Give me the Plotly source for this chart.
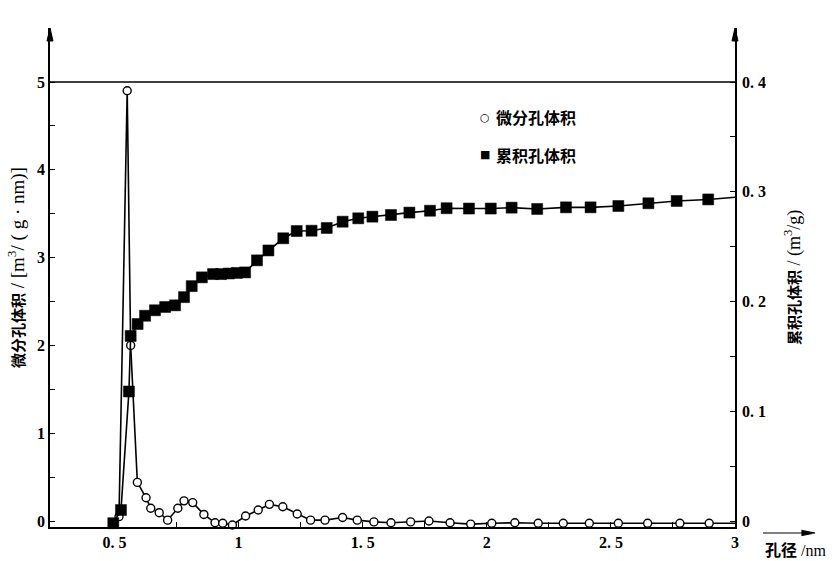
import plotly.graph_objects as go

# ---------------- data ----------------
# differential pore volume (left axis), m3/(g*nm)
diff_x = [0.518, 0.551, 0.565, 0.592, 0.627, 0.646, 0.680, 0.714, 0.755, 0.780,
          0.815, 0.860, 0.905, 0.936, 0.975, 1.028, 1.079, 1.124, 1.178, 1.236,
          1.290, 1.348, 1.419, 1.478, 1.545, 1.614, 1.693, 1.767, 1.852, 1.935,
          2.020, 2.113, 2.207, 2.308, 2.413, 2.530, 2.648, 2.778, 2.896, 3.0]
diff_y = [0.05, 4.90, 2.00, 0.44, 0.265, 0.145, 0.095, 0.01, 0.145, 0.23,
          0.21, 0.075, -0.02, -0.025, -0.045, 0.057, 0.125, 0.19, 0.163, 0.08,
          0.01, 0.01, 0.04, 0.01, -0.01, -0.02, -0.01, 0.0, -0.02, -0.035,
          -0.025, -0.02, -0.025, -0.025, -0.025, -0.025, -0.026, -0.026, -0.026, -0.026]

# cumulative pore volume (right axis), m3/g
cum_x = [0.495, 0.526, 0.558, 0.565, 0.593, 0.623, 0.663, 0.704, 0.744, 0.780,
         0.811, 0.852, 0.897, 0.929, 0.961, 0.993, 1.026, 1.074, 1.120, 1.180,
         1.234, 1.294, 1.355, 1.419, 1.482, 1.539, 1.614, 1.688, 1.771, 1.838,
         1.928, 2.016, 2.100, 2.203, 2.319, 2.418, 2.530, 2.651, 2.765, 2.892, 3.0]
cum_y = [-0.002, 0.010, 0.118, 0.1686, 0.1795, 0.187, 0.192, 0.195, 0.1965, 0.204,
         0.214, 0.222, 0.225, 0.225, 0.2255, 0.226, 0.2265, 0.2375, 0.2465, 0.2576,
         0.2642, 0.2645, 0.267, 0.2727, 0.2758, 0.2773, 0.2788, 0.281, 0.2827, 0.285,
         0.2847, 0.2847, 0.2855, 0.2843, 0.2858, 0.2858, 0.287, 0.2895, 0.2916, 0.293, 0.295]

x_ticks = [0.5, 1, 1.5, 2, 2.5, 3]
x_ticktext = ["0. 5", "1", "1. 5", "2", "2. 5", "3"]
y_ticks = [0, 1, 2, 3, 4, 5]
y2_ticks = [0, 0.1, 0.2, 0.3, 0.4]
y2_ticktext = ["0", "0. 1", "0. 2", "0. 3", "0. 4"]

name_diff = "微分孔体积"
name_cum = "累积孔体积"

# ---------------- figure ----------------
BLACK = "#000000"
NUM_FONT = dict(family="Liberation Serif, DejaVu Serif", size=16, color=BLACK, weight="bold")
CJK_FONT = "Liberation Serif, Noto Sans CJK SC"

diff_sizes = [8] * (len(diff_x) - 1) + [0]
cum_sizes = [11] * (len(cum_x) - 1) + [0]

fig = go.Figure()
fig.add_trace(go.Scatter(
    x=diff_x, y=diff_y, mode="lines+markers", name=name_diff,
    line=dict(color=BLACK, width=1.6),
    marker=dict(symbol="circle", size=diff_sizes, color="white", opacity=1,
                line=dict(color=BLACK, width=1.4)),
    showlegend=False, cliponaxis=False))
fig.add_trace(go.Scatter(
    x=cum_x, y=cum_y, mode="lines+markers", name=name_cum, yaxis="y2",
    line=dict(color=BLACK, width=1.6),
    marker=dict(symbol="square", size=cum_sizes, color=BLACK, opacity=1,
                line=dict(color=BLACK, width=0.5)),
    showlegend=False, cliponaxis=False))

axis_common = dict(showgrid=False, zeroline=False, showline=True, linecolor=BLACK,
                   linewidth=1.5, ticks="inside", ticklen=5, tickwidth=1.2,
                   tickcolor=BLACK, tickfont=NUM_FONT, automargin=False)

fig.update_layout(
    width=840, height=561,
    margin=dict(l=50, r=105, t=28, b=34, autoexpand=False),
    paper_bgcolor="white", plot_bgcolor="white",
    showlegend=False,
    xaxis=dict(range=[0.24, 3.0], tickvals=x_ticks, ticktext=x_ticktext,
               ticklabelstandoff=0,
               minor=dict(tickvals=[0.75, 1.25, 1.75, 2.25, 2.75], ticks="inside",
                          ticklen=5, tickwidth=1.2, tickcolor=BLACK),
               **axis_common),
    yaxis=dict(range=[-0.068, 5.615], tickvals=y_ticks,
               minor=dict(tickvals=[0.5, 1.5, 2.5, 3.5, 4.5], ticks="inside",
                          ticklen=5, tickwidth=1.2, tickcolor=BLACK),
               **axis_common),
    yaxis2=dict(range=[-0.00547, 0.4492], tickvals=y2_ticks, ticktext=y2_ticktext,
                overlaying="y", side="right", ticklabelstandoff=2,
                minor=dict(tickvals=[0.05, 0.15, 0.25, 0.35], ticks="inside",
                           ticklen=5, tickwidth=1.2, tickcolor=BLACK),
                **axis_common),
)

# top frame line at y = 5
fig.add_shape(type="line", xref="paper", yref="y", x0=0, x1=1, y0=5, y1=5,
              line=dict(color=BLACK, width=1.5))

# arrowheads on the two vertical axes
for xa in (0, 1):
    fig.add_shape(type="path", xref="paper", yref="paper",
                  xsizemode="pixel", ysizemode="pixel", xanchor=xa, yanchor=1,
                  path="M-3,-13 L3,-13 L0,0 Z", fillcolor=BLACK,
                  line=dict(color=BLACK, width=1))

# arrow above the x-axis title
fig.add_shape(type="path", xref="paper", yref="paper",
              xsizemode="pixel", ysizemode="pixel", xanchor=1.1168, yanchor=-0.012,
              path="M-52,0 L-10,0 M-13,-2.5 L0,0 L-13,2.5 Z", fillcolor=BLACK,
              line=dict(color=BLACK, width=1.2))

# axis titles
fig.add_annotation(xref="paper", yref="paper", x=-0.0496, y=0.519,
                   text="<b><span style='font-size:15px'>微分孔体积</span></b> / [m<sup>3</sup>/ ( g · nm)]",
                   textangle=-90,
                   showarrow=False, xanchor="center", yanchor="middle",
                   font=dict(family=CJK_FONT, size=19, color=BLACK))
fig.add_annotation(xref="paper", yref="paper", x=1.0847, y=0.499,
                   text="<b><span style='font-size:15px'>累积孔体积</span></b> / (m<sup>3</sup>/g)",
                   textangle=-90,
                   showarrow=False, xanchor="center", yanchor="middle",
                   font=dict(family=CJK_FONT, size=18, color=BLACK))
fig.add_annotation(xref="paper", yref="paper", x=1.089, y=-0.048,
                   text="<b>孔径</b> /nm", showarrow=False, xanchor="center", yanchor="middle",
                   font=dict(family=CJK_FONT, size=16, color=BLACK))

# legend (symbols + labels)
fig.add_annotation(xref="paper", yref="paper", x=0.635, y=0.8216, text="○",
                   showarrow=False, xanchor="center", yanchor="middle",
                   font=dict(family="DejaVu Sans", size=11, color=BLACK))
fig.add_annotation(xref="paper", yref="paper", x=0.6485, y=0.8216, text=name_diff,
                   showarrow=False, xanchor="left", yanchor="middle",
                   font=dict(family="Noto Sans CJK SC", size=16, color=BLACK, weight="bold"))
fig.add_annotation(xref="paper", yref="paper", x=0.635, y=0.7455, text="■",
                   showarrow=False, xanchor="center", yanchor="middle",
                   font=dict(family="DejaVu Sans", size=11, color=BLACK))
fig.add_annotation(xref="paper", yref="paper", x=0.6485, y=0.7455, text=name_cum,
                   showarrow=False, xanchor="left", yanchor="middle",
                   font=dict(family="Noto Sans CJK SC", size=16, color=BLACK, weight="bold"))

fig.write_html("out.html", post_script="document.body.style.margin='0';",
               config={"displayModeBar": False})
